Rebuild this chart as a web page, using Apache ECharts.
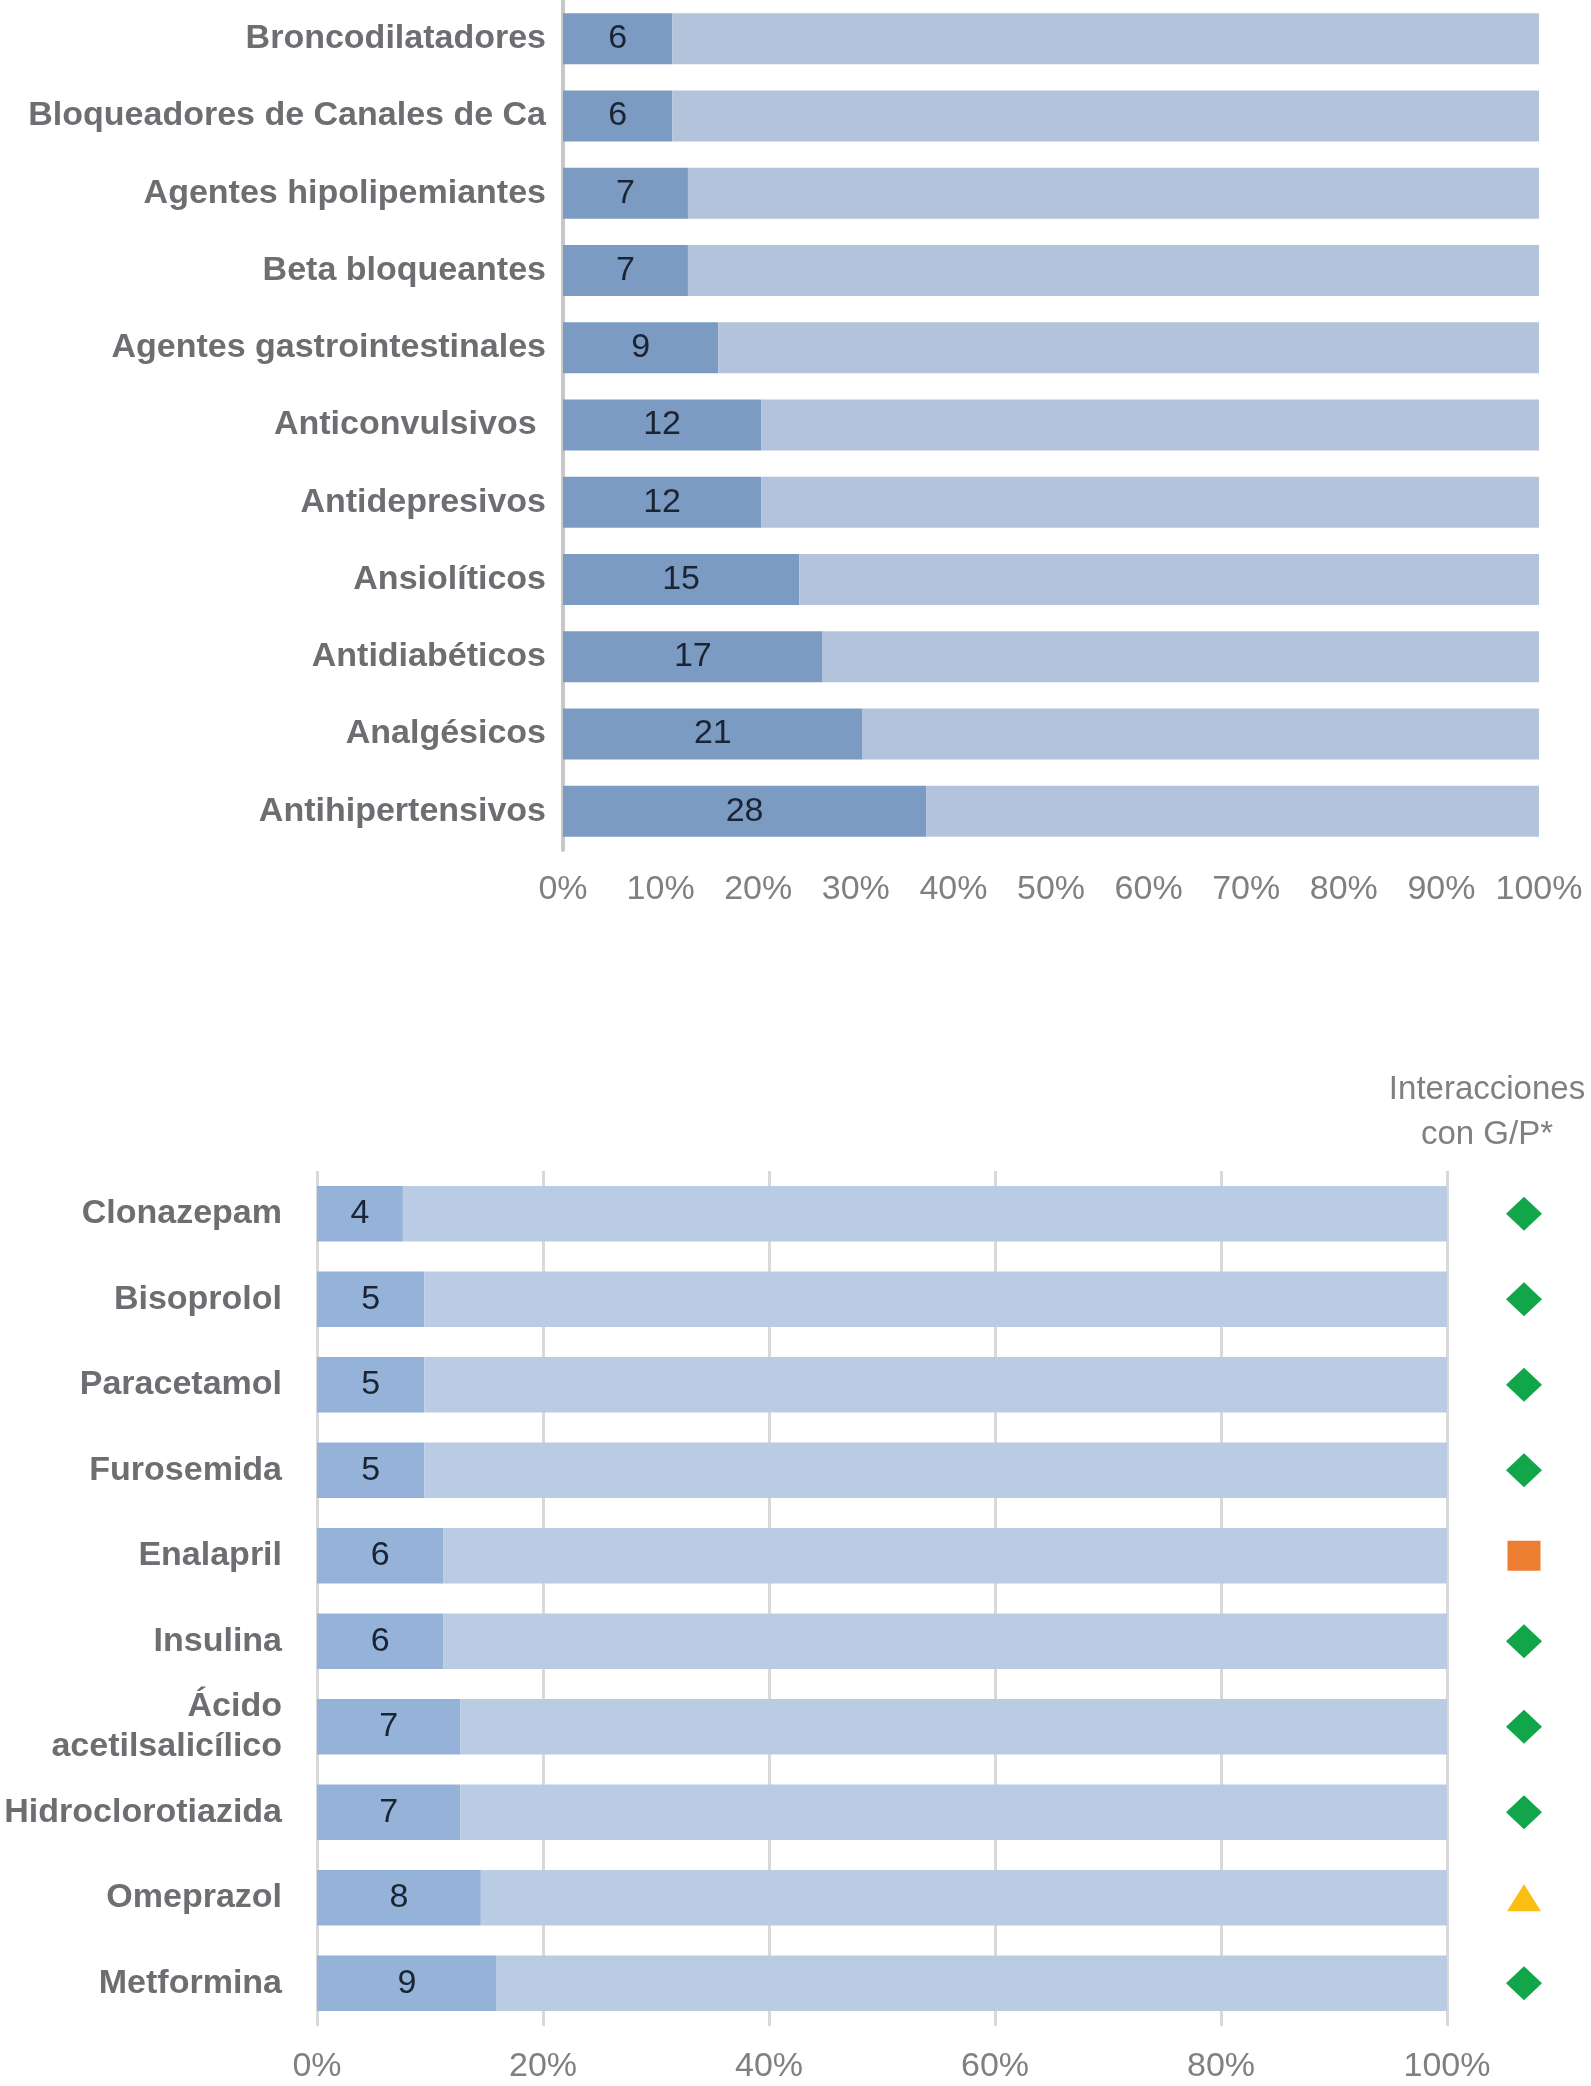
<!DOCTYPE html>
<html>
<head>
<meta charset="utf-8">
<script src="https://cdn.jsdelivr.net/npm/echarts@6/dist/echarts.min.js"></script>
<style>
html,body{margin:0;padding:0;background:#fff;}
#c{width:1591px;height:2086px;}
</style>
</head>
<body>
<div id="c"></div>
<script>
// ---- Top chart data ----
const grupos = ['Broncodilatadores','Bloqueadores de Canales de Ca','Agentes hipolipemiantes','Beta bloqueantes','Agentes gastrointestinales','Anticonvulsivos ','Antidepresivos','Ansiolíticos','Antidiabéticos','Analgésicos','Antihipertensivos'];
const gruposN = [6,6,7,7,9,12,12,15,17,21,28];
const gruposPct = [11.2,11.2,12.8,12.8,15.9,20.3,20.3,24.2,26.6,30.7,37.2];

// ---- Bottom chart data ----
const farmacos = ['Clonazepam','Bisoprolol','Paracetamol','Furosemida','Enalapril','Insulina','Ácido\nacetilsalicílico','Hidroclorotiazida','Omeprazol','Metformina'];
const farmacosN = [4,5,5,5,6,6,7,7,8,9];
const farmacosPct = [7.6,9.5,9.5,9.5,11.2,11.2,12.7,12.7,14.5,15.9];
const interacciones = ['rombo','rombo','rombo','rombo','cuadrado','rombo','rombo','rombo','triangulo','rombo'];

const tickLabelsTop = [0,10,20,30,40,50,60,70,80,90,100];
const tickLabelsBottom = [0,20,40,60,80,100];

const FONT = '"Liberation Sans", Arial, Helvetica, sans-serif';
const catColor = '#6d6e71';
const tickColor = '#808080';

const symbolMap = {rombo:'diamond', cuadrado:'rect', triangulo:'triangle'};
const colorMap = {rombo:'#12a64b', cuadrado:'#ed7d31', triangulo:'#fbbf14'};
const sizeMap = {rombo:[36,34], cuadrado:[33,30], triangulo:[34,27]};

const chart = echarts.init(document.getElementById('c'), null, {renderer:'canvas'});

const option = {
  animation:false,
  backgroundColor:'#ffffff',
  textStyle:{fontFamily:FONT},
  title:{
    text:'Interacciones\ncon G/P*',
    left:1482, top:1062, textAlign:'center',
    textStyle:{fontFamily:FONT, fontSize:33, fontWeight:'normal', color:'#808080', lineHeight:45}
  },
  grid:[
    {left:563, width:976, top:0, height:850, containLabel:false},
    {left:317, width:1130, top:1171, height:855, containLabel:false},
    {left:1494, width:60, top:1171, height:855, containLabel:false}
  ],
  xAxis:[
    {gridIndex:0, type:'value', min:0, max:100, interval:10,
     axisLine:{show:false}, axisTick:{show:false}, splitLine:{show:false},
     axisLabel:{formatter:v=> tickLabelsTop.includes(v) ? v+'%' : '', color:tickColor, fontSize:34, margin:23, fontFamily:FONT}},
    {gridIndex:1, type:'value', min:0, max:100, interval:20,
     axisLine:{show:false}, axisTick:{show:false},
     splitLine:{show:true, lineStyle:{color:'#d9d9d9', width:3}},
     axisLabel:{formatter:v=> tickLabelsBottom.includes(v) ? v+'%' : '', color:tickColor, fontSize:34, margin:24, fontFamily:FONT}},
    {gridIndex:2, type:'category', data:['G/P'], show:false}
  ],
  yAxis:[
    {gridIndex:0, type:'category', data:grupos, inverse:true,
     axisLine:{show:true, lineStyle:{color:'#c8c8c8', width:4}}, axisTick:{show:false},
     axisLabel:{color:catColor, fontSize:34, fontWeight:'bold', margin:17, fontFamily:FONT}},
    {gridIndex:1, type:'category', data:farmacos, inverse:true,
     axisLine:{show:false}, axisTick:{show:false},
     axisLabel:{color:catColor, fontSize:34, fontWeight:'bold', margin:35, lineHeight:40, align:'right', fontFamily:FONT}},
    {gridIndex:2, type:'category', data:farmacos, inverse:true, show:false}
  ],
  series:[
    {type:'bar', xAxisIndex:0, yAxisIndex:0, stack:'top', barWidth:'66%',
     data:gruposPct, itemStyle:{color:'#7b9bc2'},
     label:{show:true, position:'inside', formatter:p=>String(gruposN[p.dataIndex]), color:'#1b2433', fontSize:34, fontFamily:FONT}},
    {type:'bar', xAxisIndex:0, yAxisIndex:0, stack:'top', barWidth:'66%',
     data:gruposPct.map(v=>+(100-v).toFixed(1)), itemStyle:{color:'#b3c3dc'}},
    {type:'bar', xAxisIndex:1, yAxisIndex:1, stack:'bot', barWidth:'65%',
     data:farmacosPct, itemStyle:{color:'#95b3d9'},
     label:{show:true, position:'inside', formatter:p=>String(farmacosN[p.dataIndex]), color:'#1b2433', fontSize:34, fontFamily:FONT}},
    {type:'bar', xAxisIndex:1, yAxisIndex:1, stack:'bot', barWidth:'65%',
     data:farmacosPct.map(v=>+(100-v).toFixed(1)), itemStyle:{color:'#b9cce4'}},
    {type:'scatter', xAxisIndex:2, yAxisIndex:2,
     data:interacciones.map((t,i)=>({value:['G/P', farmacos[i]], symbol:symbolMap[t], symbolSize:sizeMap[t], itemStyle:{color:colorMap[t], opacity:1}}))}
  ]
};
chart.setOption(option);
</script>
</body>
</html>
